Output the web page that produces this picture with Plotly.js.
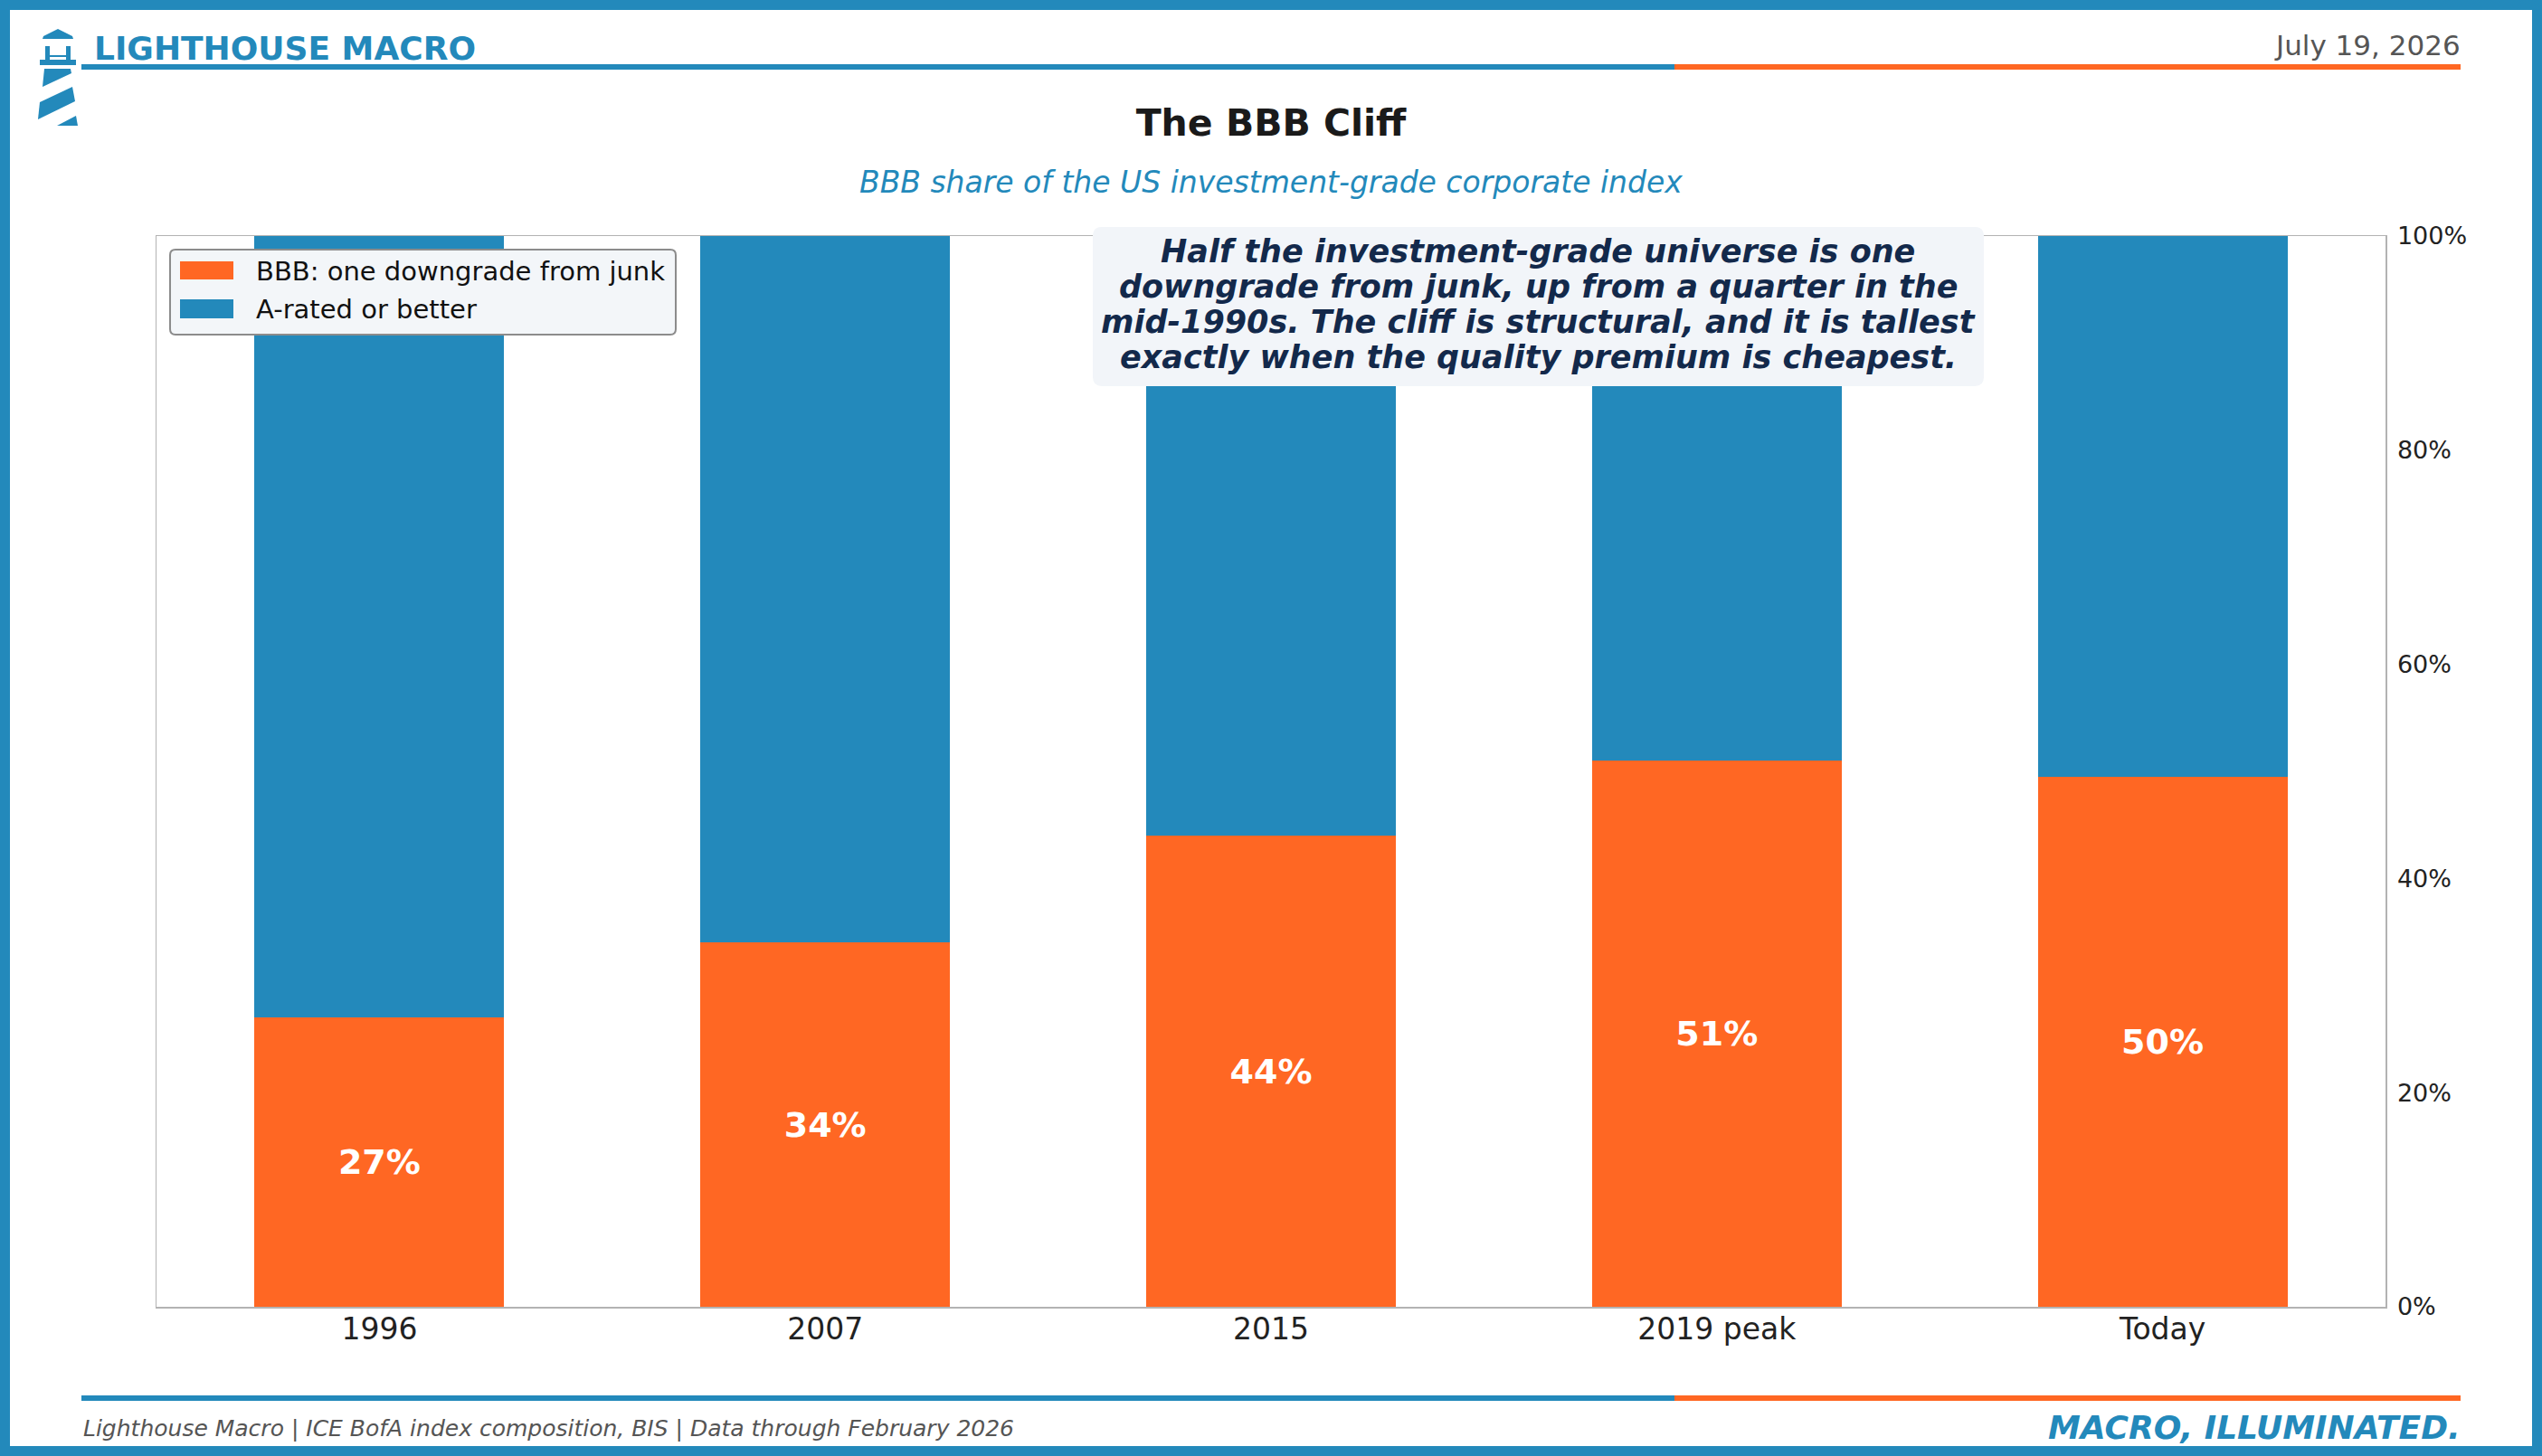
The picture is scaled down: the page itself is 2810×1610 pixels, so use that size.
<!DOCTYPE html>
<html>
<head>
<meta charset="utf-8">
<script src="https://cdn.plot.ly/plotly-3.0.1.min.js"></script>
<style>
html,body{margin:0;padding:0;background:#ffffff;}
#chart{width:2810px;height:1610px;}
</style>
</head>
<body>
<div id="chart"></div>
<script>
// ---------- data ----------
const categories = ['1996', '2007', '2015', '2019 peak', 'Today'];
const bbbShare = [27, 34, 44, 51, 49.5];
const aRatedShare = [73, 66, 56, 49, 50.5];
const seriesNames = ['BBB: one downgrade from junk', 'A-rated or better'];
const yTickValues = [0, 20, 40, 60, 80, 100];
const yTickLabels = ['0%', '20%', '40%', '60%', '80%', '100%'];
const chartTitle = 'The BBB Cliff';
const chartSubtitle = 'BBB share of the US investment-grade corporate index';
const brandName = 'LIGHTHOUSE MACRO';
const dateText = 'July 19, 2026';
const sourceText = 'Lighthouse Macro | ICE BofA index composition, BIS | Data through February 2026';
const taglineText = 'MACRO, ILLUMINATED.';
const calloutLines = [
  'Half the investment-grade universe is one',
  'downgrade from junk, up from a quarter in the',
  'mid-1990s. The cliff is structural, and it is tallest',
  'exactly when the quality premium is cheapest.'
];

// ---------- styling ----------
const BLUE = '#2389BB';
const ORANGE = '#FF6723';
const FONT = 'DejaVu Sans, sans-serif';
const W = 2810, H = 1610;
const L = 173, R = 2637, T = 261, B = 1445;
const px = x => (x - L) / (R - L);
const py = y => (B - y) / (B - T);

function poly(pts) {
  return pts.map((p, i) => (i ? 'L' : 'M') + px(p[0]).toFixed(5) + ',' + py(p[1]).toFixed(5)).join(' ') + ' Z';
}
function roundRect(x0, y0, x1, y1, r) {
  const P = (x, y) => px(x).toFixed(5) + ',' + py(y).toFixed(5);
  return 'M' + P(x0 + r, y0) + ' L' + P(x1 - r, y0) + ' Q' + P(x1, y0) + ' ' + P(x1, y0 + r) +
    ' L' + P(x1, y1 - r) + ' Q' + P(x1, y1) + ' ' + P(x1 - r, y1) +
    ' L' + P(x0 + r, y1) + ' Q' + P(x0, y1) + ' ' + P(x0, y1 - r) +
    ' L' + P(x0, y0 + r) + ' Q' + P(x0, y0) + ' ' + P(x0 + r, y0) + ' Z';
}
function pline(x0, y0, x1, y1, color, w) {
  return {type: 'line', xref: 'paper', yref: 'paper', x0: px(x0), y0: py(y0), x1: px(x1), y1: py(y1),
          line: {color: color, width: w}, layer: 'above'};
}
function prect(x0, y0, x1, y1, fill) {
  return {type: 'rect', xref: 'paper', yref: 'paper', x0: px(x0), y0: py(y0), x1: px(x1), y1: py(y1),
          fillcolor: fill, line: {width: 0}, layer: 'above'};
}
function ppath(d, fill, lineColor, lineW) {
  return {type: 'path', xref: 'paper', yref: 'paper', path: d, fillcolor: fill,
          line: {color: lineColor || fill, width: lineW || 0}, layer: 'above'};
}
function ann(text, x, y, xanchor, font) {
  return {text: text, xref: 'paper', yref: 'paper', x: px(x), y: py(y), xanchor: xanchor, yanchor: 'middle',
          showarrow: false, font: Object.assign({family: FONT}, font)};
}

const barLabels = bbbShare.map(v => v.toFixed(0) + '%');

const traces = [
  {
    type: 'bar', name: seriesNames[0], x: categories, y: bbbShare,
    marker: {color: ORANGE, line: {width: 0}},
    text: barLabels, textposition: 'inside', insidetextanchor: 'middle', textangle: 0,
    constraintext: 'none',
    textfont: {family: FONT, size: 38, color: '#ffffff', weight: 'bold'},
    hoverinfo: 'skip'
  },
  {
    type: 'bar', name: seriesNames[1], x: categories, y: aRatedShare,
    marker: {color: BLUE, line: {width: 0}},
    hoverinfo: 'skip'
  }
];

const shapes = [
  // page border
  {type: 'rect', xref: 'paper', yref: 'paper', x0: px(5.5), y0: py(5.5), x1: px(W - 5.5), y1: py(H - 5.5),
   line: {color: BLUE, width: 11}, fillcolor: 'rgba(0,0,0,0)', layer: 'above'},
  // header rule
  pline(90, 74, 1851, 74, BLUE, 6),
  pline(1851, 74, 2720, 74, ORANGE, 6),
  // footer rule
  pline(90, 1546, 1851, 1546, BLUE, 6),
  pline(1851, 1546, 2720, 1546, ORANGE, 6),
  // lighthouse icon
  ppath(poly([[47, 43], [48, 40], [64, 32], [80, 40], [81, 43]]), BLUE),
  prect(50, 51, 55, 67, BLUE),
  prect(73, 51, 78, 67, BLUE),
  prect(55, 61, 73, 63, BLUE),
  prect(44, 66, 84, 72, BLUE),
  ppath(poly([[49, 76], [78, 76], [79, 81], [47, 96]]), BLUE),
  ppath(poly([[80, 96], [83, 112], [42, 132], [44, 113]]), BLUE),
  ppath(poly([[84, 128], [86, 139], [63, 139]]), BLUE),
  // legend box
  ppath(roundRect(188, 276, 747, 370, 6), '#f3f6f9', '#8c8c8c', 2),
  prect(199, 289, 258, 309, ORANGE),
  prect(199, 331, 258, 352, BLUE),
  // callout box
  ppath(roundRect(1208, 251, 2193, 427, 10), '#f2f5f9', '#f2f5f9', 0)
];

const annotations = [
  ann(brandName, 102, 54, 'left', {size: 36, color: BLUE, weight: 'bold'}),
  ann(dateText, 2722, 50, 'right', {size: 31, color: '#555555'}),
  ann(chartSubtitle, 1405, 201, 'center', {size: 33, color: BLUE, style: 'italic'}),
  ann(sourceText, 90, 1579, 'left', {size: 25, color: '#555555', style: 'italic'}),
  ann(taglineText, 2722, 1578, 'right', {size: 36, color: BLUE, style: 'italic', weight: 'bold'}),
  ann(seriesNames[0], 281, 300, 'left', {size: 29, color: '#111111'}),
  ann(seriesNames[1], 281, 342, 'left', {size: 29, color: '#111111'})
];
calloutLines.forEach((line, i) => {
  annotations.push(ann(line, 1700, 278 + i * 39, 'center', {size: 35, color: '#13294B', style: 'italic', weight: 'bold'}));
});

const layout = {
  width: W, height: H,
  margin: {l: L, r: W - R, t: T, b: H - B, pad: 0},
  paper_bgcolor: '#ffffff', plot_bgcolor: '#ffffff',
  barmode: 'stack', bargap: 0.44,
  showlegend: false,
  font: {family: FONT, color: '#222222'},
  title: {text: chartTitle, x: 0.5, xanchor: 'center', xref: 'container', yref: 'container',
          y: 1 - 136 / H, yanchor: 'middle', font: {family: FONT, size: 41, color: '#1a1a1a', weight: 'bold'}},
  xaxis: {
    type: 'category', range: [-0.5, 4.5], showgrid: false, zeroline: false,
    showline: true, mirror: true, linecolor: '#b3b3b3', linewidth: 1.5,
    ticks: '', ticklabelstandoff: -5,
    tickfont: {family: FONT, size: 33, color: '#222222'}, fixedrange: true
  },
  yaxis: {
    range: [0, 100], side: 'right', showgrid: false, zeroline: false,
    showline: true, mirror: true, linecolor: '#b3b3b3', linewidth: 1.5,
    tickvals: yTickValues, ticktext: yTickLabels, ticks: '', ticklabelstandoff: 6,
    tickfont: {family: FONT, size: 27, color: '#222222'}, fixedrange: true
  },
  shapes: shapes,
  annotations: annotations
};

Plotly.newPlot('chart', traces, layout, {staticPlot: true, displayModeBar: false});
</script>
</body>
</html>
